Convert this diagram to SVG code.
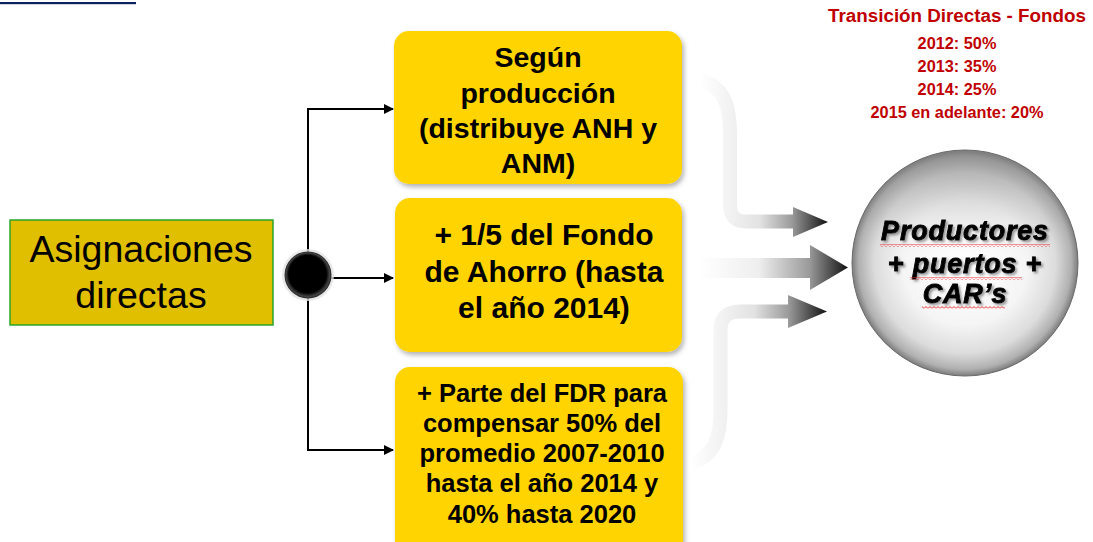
<svg xmlns="http://www.w3.org/2000/svg" width="1093" height="542" viewBox="0 0 1093 542">
<defs>
<style>
.box{fill:#FFD400;}
.bt{font-family:"Liberation Sans",Arial,sans-serif;font-weight:bold;fill:#000;text-anchor:middle;}
.nt{font-family:"Liberation Sans",Arial,sans-serif;font-weight:normal;font-size:37.5px;fill:#000;text-anchor:middle;}
.red{font-family:"Liberation Sans",Arial,sans-serif;font-weight:bold;fill:#C00000;text-anchor:middle;}
.sp{font-family:"Liberation Sans",Arial,sans-serif;font-weight:bold;font-style:italic;font-size:27px;letter-spacing:0.8px;fill:#000;stroke:#000;stroke-width:0.9px;text-anchor:middle;}
.ln{stroke:#000;stroke-width:2;fill:none;}
</style>
<filter id="sh" x="-10%" y="-10%" width="125%" height="125%">
<feDropShadow dx="2" dy="3" stdDeviation="2.5" flood-color="#000" flood-opacity="0.3"/>
</filter>
<filter id="tsh" x="-10%" y="-20%" width="130%" height="150%">
<feDropShadow dx="2" dy="2" stdDeviation="1" flood-color="#555" flood-opacity="0.55"/>
</filter>
<marker id="ah" viewBox="0 0 10 10" refX="9" refY="5" markerWidth="5" markerHeight="5" orient="auto" markerUnits="strokeWidth">
<path d="M0,0 L10,5 L0,10 z" fill="#000"/>
</marker>
<linearGradient id="g1" gradientUnits="userSpaceOnUse" x1="700" y1="0" x2="828" y2="0">
<stop offset="0" stop-color="#ffffff"/>
<stop offset="0.25" stop-color="#f1f1f1"/>
<stop offset="0.47" stop-color="#e2e2e2"/>
<stop offset="0.72" stop-color="#9a9a9a"/>
<stop offset="1" stop-color="#111"/>
</linearGradient>
<linearGradient id="g2" gradientUnits="userSpaceOnUse" x1="700" y1="0" x2="848" y2="0">
<stop offset="0" stop-color="#ffffff"/>
<stop offset="0.4" stop-color="#eeeeee"/>
<stop offset="0.74" stop-color="#9a9a9a"/>
<stop offset="1" stop-color="#111"/>
</linearGradient>
<linearGradient id="g3" gradientUnits="userSpaceOnUse" x1="690" y1="0" x2="827" y2="0">
<stop offset="0" stop-color="#ffffff"/>
<stop offset="0.25" stop-color="#f1f1f1"/>
<stop offset="0.47" stop-color="#e2e2e2"/>
<stop offset="0.72" stop-color="#9a9a9a"/>
<stop offset="1" stop-color="#111"/>
</linearGradient>
<radialGradient id="sph" cx="0.5" cy="0.5" r="0.5" fx="0.5" fy="0.5">
<stop offset="0" stop-color="#ffffff"/>
<stop offset="0.55" stop-color="#f5f5f5"/>
<stop offset="0.8" stop-color="#dcdcdc"/>
<stop offset="0.94" stop-color="#b0b0b0"/>
<stop offset="1" stop-color="#7c7c7c"/>
</radialGradient>
<linearGradient id="sphtop" x1="0" y1="0" x2="0" y2="1">
<stop offset="0" stop-color="#777" stop-opacity="0.55"/>
<stop offset="0.3" stop-color="#999" stop-opacity="0.15"/>
<stop offset="0.5" stop-color="#fff" stop-opacity="0"/>
<stop offset="1" stop-color="#fff" stop-opacity="0"/>
</linearGradient>
<radialGradient id="jn" cx="0.5" cy="0.5" r="0.5" fx="0.45" fy="0.4">
<stop offset="0" stop-color="#000"/>
<stop offset="0.8" stop-color="#000"/>
<stop offset="0.93" stop-color="#444"/>
<stop offset="1" stop-color="#222"/>
</radialGradient>
<pattern id="sq" width="4" height="3" patternUnits="userSpaceOnUse">
<path d="M0,2.5 L2,0.5 L4,2.5" stroke="#e53030" stroke-width="1" fill="none"/>
</pattern>
</defs>

<rect x="0" y="2" width="136" height="2.2" fill="#0B2260"/>

<g id="transicion">
<text class="red" x="957" y="22" font-size="18.8">Transición Directas - Fondos</text>
<text class="red" x="957" y="48.5" font-size="16.3">2012: 50%</text>
<text class="red" x="957" y="72" font-size="16.3">2013: 35%</text>
<text class="red" x="957" y="95" font-size="16.3">2014: 25%</text>
<text class="red" x="957" y="118" font-size="16.3">2015 en adelante: 20%</text>
</g>

<g id="connectors">
<line class="ln" x1="308" y1="109" x2="308" y2="450"/>
<line class="ln" x1="307" y1="109" x2="393" y2="109" marker-end="url(#ah)"/>
<line class="ln" x1="308" y1="278" x2="393" y2="278" marker-end="url(#ah)"/>
<line class="ln" x1="307" y1="450" x2="393" y2="450" marker-end="url(#ah)"/>
<path d="M700,80 C722,86 730,102 730,135 L730,205 Q730,221.5 746,221.5 L795,221.5" fill="none" stroke="url(#g1)" stroke-width="14"/>
<polygon points="793,207 828,222 793,237" fill="url(#g1)"/>
<rect x="700" y="258" width="112" height="20" fill="url(#g2)"/>
<polygon points="810,245 848,267.5 810,290" fill="url(#g2)"/>
<path d="M693,463 C713,455 720.5,440 720.5,410 L720.5,330 Q720.5,311.5 740,311.5 L790,311.5" fill="none" stroke="url(#g3)" stroke-width="14"/>
<polygon points="788,295 827,311.5 788,328" fill="url(#g3)"/>
</g>

<g id="asignaciones">
<rect x="10" y="220" width="263" height="105" fill="#E0BE00" stroke="#2BA52B" stroke-width="1.5"/>
<text class="nt" x="141" y="262">Asignaciones</text>
<text class="nt" x="141" y="308">directas</text>
</g>

<g id="junction">
<circle cx="308" cy="275" r="26" fill="#e4e4e4" opacity="0.8"/>
<circle cx="308" cy="275" r="23.5" fill="url(#jn)"/>
</g>

<g id="box1">
<rect class="box" x="394" y="31" width="288" height="153" rx="15" filter="url(#sh)"/>
<text class="bt" x="538" y="67" font-size="28.5">Según</text>
<text class="bt" x="538" y="103" font-size="28.5">producción</text>
<text class="bt" x="538" y="138" font-size="28.5">(distribuye ANH y</text>
<text class="bt" x="538" y="173" font-size="28.5">ANM)</text>
</g>

<g id="box2">
<rect class="box" x="395" y="198" width="287" height="154" rx="15" filter="url(#sh)"/>
<text class="bt" x="544" y="245" font-size="30">+ 1/5 del Fondo</text>
<text class="bt" x="544" y="282" font-size="30">de Ahorro (hasta</text>
<text class="bt" x="544" y="318" font-size="30">el año 2014)</text>
</g>

<g id="box3">
<rect class="box" x="395" y="367" width="288" height="195" rx="15" filter="url(#sh)"/>
<text class="bt" x="542" y="402" font-size="25.5">+ Parte del FDR para</text>
<text class="bt" x="542" y="432" font-size="25.5">compensar 50% del</text>
<text class="bt" x="542" y="462" font-size="25.5">promedio 2007-2010</text>
<text class="bt" x="542" y="492" font-size="25.5">hasta el año 2014 y</text>
<text class="bt" x="542" y="523" font-size="25.5">40% hasta 2020</text>
</g>

<g id="productores">
<circle cx="965" cy="263" r="113" fill="url(#sph)" stroke="#6a6a6a" stroke-width="1"/>
<circle cx="965" cy="263" r="112" fill="url(#sphtop)"/>
<g filter="url(#tsh)">
<text class="sp" x="965" y="240">Productores</text>
<text class="sp" x="965" y="273">+ puertos +</text>
<text class="sp" x="965" y="303">CAR’s</text>
</g>
<rect x="880" y="244" width="170" height="3" fill="url(#sq)"/>
<rect x="910" y="277" width="112" height="3" fill="url(#sq)"/>
<rect x="922" y="306" width="83" height="3" fill="url(#sq)"/>
</g>
</svg>
